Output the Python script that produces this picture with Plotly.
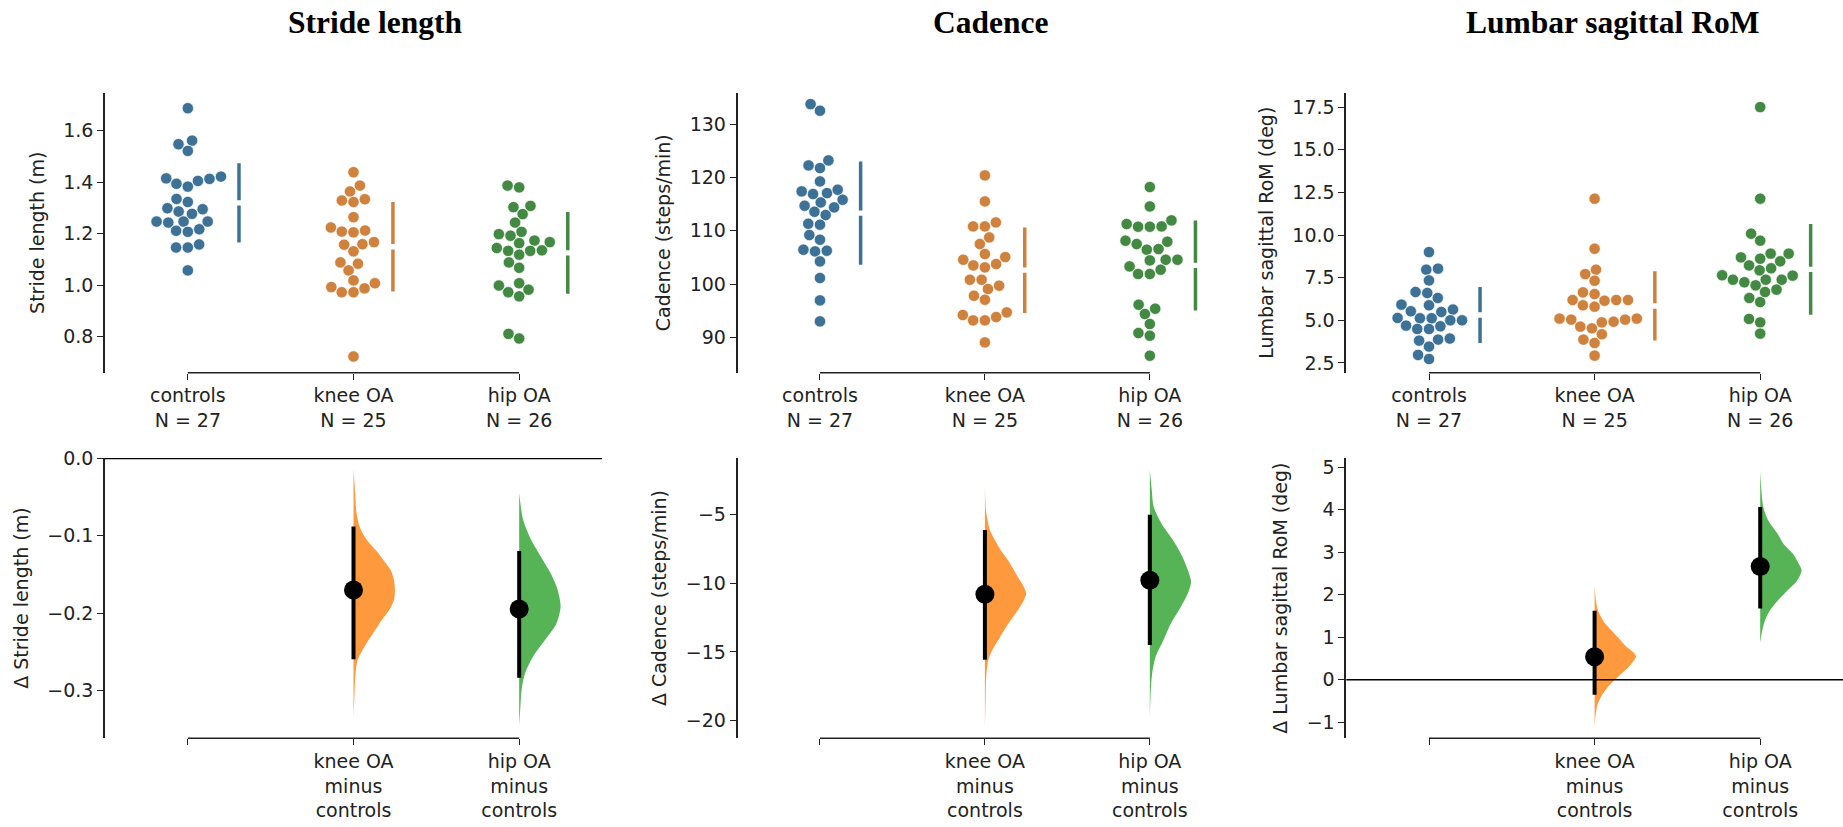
import numpy as np
import plotly.graph_objects as go

W, H = 1843, 827

# ---------------- data ----------------
groups = ["controls", "knee OA", "hip OA"]
group_n = [27, 25, 26]
diff_names = ["knee OA<br>minus<br>controls", "hip OA<br>minus<br>controls"]
panel_titles = ["Stride length", "Cadence", "Lumbar sagittal RoM"]
raw_ylabels = ["Stride length (m)", "Cadence (steps/min)", "Lumbar sagittal RoM (deg)"]
delta_ylabels = ["Δ Stride length (m)", "Δ Cadence (steps/min)", "Δ Lumbar sagittal RoM (deg)"]

stride_controls = [1.688, 1.548, 1.562, 1.522, 1.413, 1.394, 1.383, 1.405, 1.415, 1.422,
                   1.335, 1.323, 1.286, 1.277, 1.295, 1.299, 1.247, 1.243, 1.247, 1.247,
                   1.211, 1.207, 1.217, 1.146, 1.146, 1.158, 1.057]
stride_knee = [1.439, 1.387, 1.364, 1.329, 1.323, 1.334, 1.264, 1.212, 1.205, 1.208,
               1.224, 1.167, 1.159, 1.131, 1.157, 1.083, 1.057, 1.088, 1.018, 0.992,
               0.972, 0.972, 0.987, 1.007, 0.722]
stride_hip = [1.387, 1.380, 1.308, 1.303, 1.276, 1.243, 1.207, 1.192, 1.198, 1.167,
              1.173, 1.163, 1.133, 1.133, 1.118, 1.135, 1.144, 1.088, 1.067, 0.998,
              0.972, 1.007, 0.956, 0.982, 0.810, 0.792]

cadence_controls = [133.75, 132.5, 122.25, 121.75, 123.19, 119.25, 117.38, 117.06, 116.88, 117.69,
                    115.81, 114.69, 115.31, 113.56, 114.38, 112.94, 111.13, 111.31, 109.19, 108.31,
                    106.13, 106.25, 106.44, 104.25, 101.13, 96.94, 93.0]
cadence_knee = [120.38, 115.5, 111.56, 110.81, 110.81, 108.75, 107.5, 105.63, 104.56, 103.5,
                103.13, 103.75, 105.06, 100.81, 100.81, 99.06, 99.69, 97.81, 97.06, 94.19,
                93.19, 93.19, 93.81, 94.69, 89.06]
cadence_hip = [118.19, 114.56, 111.25, 110.75, 110.75, 110.81, 111.94, 107.94, 107.5, 106.44,
               106.56, 108.13, 104.56, 104.44, 104.56, 103.31, 101.88, 101.88, 102.69, 96.13,
               94.38, 95.38, 92.5, 90.81, 90.31, 86.56]

lumbar_controls = [9.00, 7.97, 8.03, 7.34, 6.66, 6.31, 6.60, 5.92, 5.63, 5.49,
                   5.88, 5.53, 5.00, 5.00, 5.12, 5.12, 5.14, 4.65, 4.49, 4.49,
                   4.69, 3.87, 3.81, 3.93, 3.46, 2.97, 2.73]
lumbar_knee = [12.13, 9.20, 7.71, 7.97, 7.32, 6.54, 6.64, 6.19, 6.19, 5.88,
               5.80, 6.15, 6.19, 5.04, 5.04, 4.63, 4.53, 4.88, 4.92, 5.10,
               5.10, 3.87, 4.18, 3.67, 2.93]
lumbar_hip = [17.5, 12.13, 10.08, 9.67, 8.91, 8.46, 8.05, 8.61, 8.91, 8.22,
              8.69, 7.93, 7.64, 7.38, 7.23, 7.05, 7.38, 7.38, 7.62, 6.31,
              6.07, 6.66, 6.80, 4.88, 5.08, 4.22]

# group mean and SD (gapped lines)
stride_mean = [1.320, 1.149, 1.125]
stride_sd = [0.154, 0.174, 0.159]
cadence_mean = [113.3, 102.6, 103.5]
cadence_sd = [9.69, 8.03, 8.44]
lumbar_mean = [5.31, 5.84, 7.99]
lumbar_sd = [1.64, 2.03, 2.66]

# mean differences vs controls and 95% CI
stride_diff = [-0.170, -0.1948]
stride_ci_low = [-0.2597, -0.2835]
stride_ci_high = [-0.0879, -0.1195]
cadence_diff = [-10.79, -9.77]
cadence_ci_low = [-15.56, -14.5]
cadence_ci_high = [-6.12, -5.0]
lumbar_diff = [0.538, 2.662]
lumbar_ci_low = [-0.353, 1.675]
lumbar_ci_high = [1.62, 4.067]

# bootstrap distribution profiles (level, relative density)
stride_knee_vy = [-0.0143, -0.0446, -0.0662, -0.0879, -0.1052, -0.1225, -0.1312, -0.1442, -0.1571, -0.1701,
                  -0.1831, -0.1961, -0.2091, -0.2221, -0.2351, -0.2481, -0.2610, -0.2784, -0.3043, -0.3346]
stride_knee_vd = [0, 0.04, 0.064, 0.144, 0.32, 0.6, 0.72, 0.896, 0.976, 1.0,
                  0.976, 0.864, 0.68, 0.52, 0.36, 0.216, 0.096, 0.048, 0.024, 0]
stride_hip_vy = [-0.0446, -0.0792, -0.1052, -0.1268, -0.1485, -0.1701, -0.1918, -0.2134, -0.2351, -0.2567,
                 -0.2784, -0.3, -0.3217, -0.3455]
stride_hip_vd = [0, 0.095, 0.29, 0.52, 0.76, 0.93, 1.0, 0.9, 0.62, 0.33, 0.14, 0.057, 0.029, 0]
cadence_knee_vy = [-2.955, -4.657, -5.387, -6.118, -6.848, -7.579, -8.309, -8.796, -9.528, -10.259, -10.741,
                   -11.231, -11.961, -12.692, -13.422, -14.153, -14.883, -15.614, -16.834, -18.535, -20.486]
cadence_knee_vd = [0, 0.024, 0.064, 0.12, 0.24, 0.384, 0.56, 0.656, 0.8, 0.944, 1.0,
                   0.944, 0.8, 0.624, 0.464, 0.32, 0.176, 0.08, 0.032, 0.016, 0]
cadence_hip_vy = [-1.735, -3.196, -4.415, -5.633, -6.848, -8.068, -9.281, -9.894, -10.741, -11.72,
                  -12.93, -14.15, -15.37, -16.59, -18.05, -19.76]
cadence_hip_vd = [0, 0.047, 0.093, 0.28, 0.56, 0.79, 0.95, 1.0, 0.92, 0.75, 0.51, 0.33, 0.14, 0.056, 0.019, 0]
lumbar_knee_vy = [2.212, 1.857, 1.620, 1.383, 1.146, 0.988, 0.791, 0.555, 0.357, 0.121,
                  -0.116, -0.353, -0.590, -0.827, -1.104]
lumbar_knee_vd = [0, 0.033, 0.083, 0.21, 0.42, 0.57, 0.75, 1.0, 0.875, 0.625, 0.375, 0.183, 0.067, 0.025, 0]
lumbar_hip_vy = [4.936, 4.462, 4.067, 3.752, 3.437, 3.2, 2.963, 2.726, 2.567, 2.331,
                 2.094, 1.857, 1.62, 1.383, 1.146, 0.869]
lumbar_hip_vd = [0, 0.028, 0.075, 0.19, 0.42, 0.56, 0.79, 0.93, 1.0, 0.89, 0.65, 0.42, 0.23, 0.11, 0.047, 0]

raw_ticks = [[0.8, 1.0, 1.2, 1.4, 1.6], [90, 100, 110, 120, 130], [2.5, 5.0, 7.5, 10.0, 12.5, 15.0, 17.5]]
delta_ticks = [[-0.3, -0.2, -0.1, 0.0], [-20, -15, -10, -5], [-1, 0, 1, 2, 3, 4, 5]]
raw_fmt = [".1f", "d", ".1f"]
delta_fmt = [".1f", "d", "d"]

# ---------------- grouping ----------------
raw_data = [[stride_controls, stride_knee, stride_hip],
            [cadence_controls, cadence_knee, cadence_hip],
            [lumbar_controls, lumbar_knee, lumbar_hip]]
means = [stride_mean, cadence_mean, lumbar_mean]
sds = [stride_sd, cadence_sd, lumbar_sd]
diffs = [stride_diff, cadence_diff, lumbar_diff]
ci_lo = [stride_ci_low, cadence_ci_low, lumbar_ci_low]
ci_hi = [stride_ci_high, cadence_ci_high, lumbar_ci_high]
violins = [[(stride_knee_vy, stride_knee_vd), (stride_hip_vy, stride_hip_vd)],
           [(cadence_knee_vy, cadence_knee_vd), (cadence_hip_vy, cadence_hip_vd)],
           [(lumbar_knee_vy, lumbar_knee_vd), (lumbar_hip_vy, lumbar_hip_vd)]]

# ---------------- style / layout ----------------
dot_colors = ["#3d7296", "#cf823e", "#438943"]
violin_colors = ["rgba(255,127,14,0.8)", "rgba(44,160,44,0.8)"]
col_px = [(105.0, 602.0), (737.5, 1232.3), (1346.2, 1843.0)]
top_px = (83.0, 367.0)
bot_px = (453.5, 738.0)
title_px = 11.5
raw_ranges = [(0.659, 1.748), (83.38, 135.87), (1.93, 18.34)]
delta_ranges = [(-0.362, 0.0008), (-21.29, -0.86), (-1.38, 5.22)]
FONT = "DejaVu Sans"
FS = 19
TXT = "#222222"
DOT_R = 5.6


def beeswarm(y_px, r):
    order = np.argsort(y_px, kind="stable")
    placed = []
    xs = np.zeros(len(y_px))
    for idx in order:
        yi = y_px[idx]
        neighbors = []
        for (xj, yj) in reversed(placed):
            if yi - yj < 2 * r:
                neighbors.append((xj, yj))
            else:
                break
        cands = [0.0]
        left_first = True
        for (xj, yj) in neighbors:
            dy = yi - yj
            dx = np.sqrt(max((2 * r) ** 2 - dy ** 2, 0)) * 1.05
            cands += [xj - dx, xj + dx] if left_first else [xj + dx, xj - dx]
            left_first = not left_first
        cands = sorted(cands, key=abs)
        chosen = cands[0]
        for c in cands:
            if all((xj - c) ** 2 + (yj - yi) ** 2 >= (2 * r) ** 2 - 1e-6 for xj, yj in neighbors):
                chosen = c
                break
        placed.append((chosen, yi))
        xs[idx] = chosen
    return xs


def ax_id(i):
    return "" if i == 1 else str(i)


def pdom(a, b, total):
    return [a / total, b / total]


fig = go.Figure()
layout = dict(width=W, height=H, margin=dict(l=0, r=0, t=0, b=0),
              paper_bgcolor="white", plot_bgcolor="white", showlegend=False,
              font=dict(family=FONT, size=FS, color=TXT))
shapes = []
annotations = []

for c in range(3):
    it, ib = c + 1, c + 4
    xa_top, ya_top = "x" + ax_id(it), "y" + ax_id(it)
    xa_bot, ya_bot = "x" + ax_id(ib), "y" + ax_id(ib)
    xd = pdom(col_px[c][0], col_px[c][1], W)
    px_per_cat = (col_px[c][1] - col_px[c][0]) / 3.0
    # ---- top: swarm ----
    r0, r1 = raw_ranges[c]
    py = (top_px[1] - top_px[0]) / (r1 - r0)
    for g in range(3):
        vals = np.array(raw_data[c][g], dtype=float)
        offs = beeswarm((vals - r0) * py, DOT_R)
        fig.add_trace(go.Scatter(
            x=g + offs / px_per_cat, y=vals, mode="markers", xaxis=xa_top, yaxis=ya_top,
            marker=dict(size=11.4, color=dot_colors[g], line=dict(color="white", width=0.7)),
            hoverinfo="skip"))
        lx = g + (offs.max() + 18.0) / px_per_cat
        gap = 2.7 / py
        m, s = means[c][g], sds[c][g]
        fig.add_trace(go.Scatter(
            x=[lx, lx, None, lx, lx], y=[m - s, m - gap, None, m + gap, m + s],
            mode="lines", xaxis=xa_top, yaxis=ya_top,
            line=dict(color=dot_colors[g], width=3.5), hoverinfo="skip"))
    # ---- bottom: effect sizes ----
    for k in range(2):
        cat = k + 1
        vy, vd = violins[c][k]
        vd = np.array(vd, dtype=float)
        fig.add_trace(go.Scatter(
            x=cat + vd / vd.max() * 0.25, y=vy, mode="lines", fill="toself",
            fillcolor=violin_colors[k], line=dict(width=0, shape="spline", smoothing=0.8),
            xaxis=xa_bot, yaxis=ya_bot, hoverinfo="skip"))
        fig.add_trace(go.Scatter(
            x=[cat, cat], y=[ci_lo[c][k], ci_hi[c][k]], mode="lines",
            line=dict(color="black", width=4), xaxis=xa_bot, yaxis=ya_bot, hoverinfo="skip"))
        fig.add_trace(go.Scatter(
            x=[cat], y=[diffs[c][k]], mode="markers",
            marker=dict(size=19, color="black"), xaxis=xa_bot, yaxis=ya_bot, hoverinfo="skip"))

    axis_common = dict(showgrid=False, zeroline=False, ticks="outside", ticklen=6, tickwidth=1.4,
                       tickcolor=TXT, tickfont=dict(family=FONT, size=FS, color=TXT))
    layout["xaxis" + ax_id(it)] = dict(domain=xd, anchor=ya_top, range=[-0.5, 2.5], showline=False,
                                       tickvals=[0, 1, 2],
                                       ticktext=[f"{groups[g]}<br>N = {group_n[g]}" for g in range(3)],
                                       **axis_common)
    layout["yaxis" + ax_id(it)] = dict(domain=pdom(H - top_px[1], H - top_px[0], H), anchor=xa_top,
                                       range=list(raw_ranges[c]), showline=True, linecolor=TXT, linewidth=1.5,
                                       tickvals=raw_ticks[c], tickformat=raw_fmt[c],
                                       title=dict(text=raw_ylabels[c],
                                                  font=dict(family=FONT, size=FS, color=TXT), standoff=14),
                                       **axis_common)
    layout["xaxis" + ax_id(ib)] = dict(domain=xd, anchor=ya_bot, range=[-0.5, 2.5], showline=False,
                                       tickvals=[0, 1, 2], ticktext=[""] + diff_names, **axis_common)
    layout["yaxis" + ax_id(ib)] = dict(domain=pdom(H - bot_px[1], H - bot_px[0], H), anchor=xa_bot,
                                       range=list(delta_ranges[c]), showline=True, linecolor=TXT, linewidth=1.5,
                                       tickvals=delta_ticks[c], tickformat=delta_fmt[c],
                                       title=dict(text=delta_ylabels[c],
                                                  font=dict(family=FONT, size=FS, color=TXT), standoff=14),
                                       **axis_common)
    # trimmed bottom spines
    for xa, ya in ((xa_top, ya_top), (xa_bot, ya_bot)):
        shapes.append(dict(type="line", xref=xa, yref=f"{ya} domain", x0=0, x1=2, y0=0, y1=0,
                           line=dict(color=TXT, width=1.5), layer="above"))
    # zero reference line on delta axis
    lo, hi = delta_ranges[c]
    if lo <= 0 <= hi:
        shapes.append(dict(type="line", xref=xa_bot, yref=ya_bot, x0=-0.5, x1=2.5, y0=0, y1=0,
                           line=dict(color="black", width=1.5), layer="above"))
    # panel title
    annotations.append(dict(text=f"<b>{panel_titles[c]}</b>", xref="paper", yref="paper",
                            x=[375.5, 991.0, 1612.5][c] / W, y=1 - title_px / H,
                            xanchor="center", yanchor="middle", showarrow=False,
                            font=dict(family="Liberation Serif", size=31.5, color="black")))

layout["shapes"] = shapes
layout["annotations"] = annotations
fig.update_layout(**layout)

pin_js = ("document.documentElement.style.margin='0';document.body.style.margin='0';"
          "document.documentElement.style.overflow='hidden';document.body.style.overflow='hidden';"
          "var d=document.getElementById('{plot_id}');d.style.position='fixed';"
          "d.style.left='0px';d.style.top='0px';d.style.zIndex='10';")
fig.write_html("out.html", config={"displayModeBar": False}, post_script=pin_js)
